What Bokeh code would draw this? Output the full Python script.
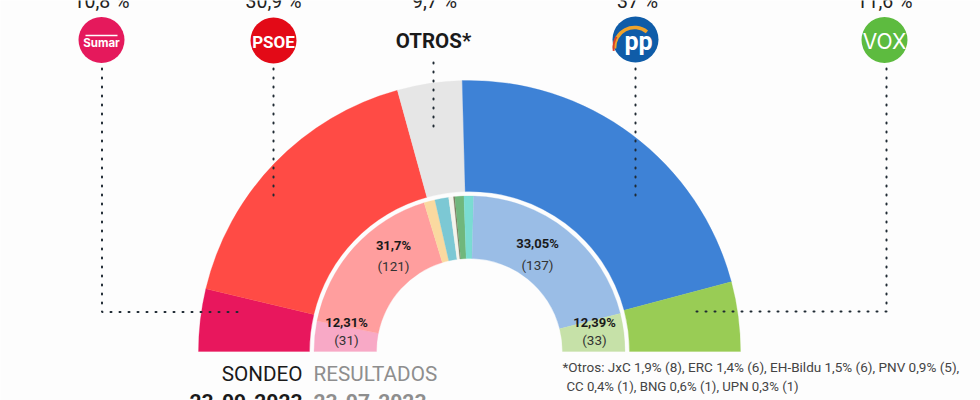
from math import pi
from bokeh.plotting import figure
from bokeh.models import ColumnDataSource
from bokeh.core.properties import value
from bokeh.embed import file_html
from bokeh.resources import INLINE

# seat-like weights (hemicycle of 350)
survey_names = ["Sumar", "PSOE", "Otros", "PP", "Vox"]
survey_pct_labels = ["10,8 %", "30,9 %", "9,7 %", "37 %", "11,6 %"]
survey_weights = [26, 119, 27, 149, 29]
survey_colors = ["#E8175D", "#FF4B45", "#E6E6E6", "#3E82D6", "#99CC55"]

result_names = ["Sumar", "PSOE", "CC", "ERC", "UPN", "BNG", "EH-Bildu", "PNV", "PP", "Vox"]
result_weights = [22, 120, 8, 10, 3.5, 1, 6.5, 7, 144.5, 27.5]
result_colors = ["#F8A9C6", "#FF9E9E", "#FAD9A0", "#7CC8D4", "#F4F4EC", "#7D7D63",
                 "#70B77C", "#7ADCD2", "#9ABDE6", "#C6E1A8"]

W, H = 980, 400
BG = "#FDFDFD"
TOTAL = 350
CX, CY = 469, H - 351


def Y(v):
    return H - v


def angles(weights):
    starts, ends, cum = [], [], 0
    for w in weights:
        ends.append(pi - cum / TOTAL * pi)
        cum += w
        starts.append(pi - cum / TOTAL * pi)
    return starts, ends


def label(x, y, t, size, color="#1a1a1a", font="Roboto", style="normal", align="center"):
    p.text([x], [Y(y)], text=[t], text_font=value(font), text_font_size=f"{size}px", text_font_style=style,
           text_align=align, text_baseline="middle", text_color=color)


p = figure(width=W, height=H, x_range=(0, W), y_range=(0, H), output_backend="svg",
           toolbar_location=None, min_border=0, outline_line_color=None,
           background_fill_color=BG, border_fill_color=BG, margin=(0, 0, 0, 0))
p.axis.visible = False
p.grid.visible = False

s, e = angles(survey_weights)
p.annular_wedge(x=CX, y=CY, inner_radius=160, outer_radius=271, source=ColumnDataSource(dict(
    start=s, end=e, color=survey_colors, name=survey_names)),
    start_angle="start", end_angle="end", fill_color="color", line_color="color", line_width=0.3)
s, e = angles(result_weights)
p.annular_wedge(x=CX, y=CY, inner_radius=93, outer_radius=155.5, source=ColumnDataSource(dict(
    start=s, end=e, color=result_colors, name=result_names)),
    start_angle="start", end_angle="end", fill_color="color", line_color="color", line_width=0.3)

# dotted connectors
DOT = dict(line_color="#1f2a33", line_width=2, line_dash="1 8", line_cap="round")
p.line([101.5, 101.5, 238], [Y(68), Y(311.5), Y(311.5)], **DOT)
p.line([273, 273], [Y(68), Y(200)], **DOT)
p.line([433, 433], [Y(62), Y(128)], **DOT)
p.line([635, 635], [Y(68), Y(200)], **DOT)
p.line([886, 886, 693], [Y(68), Y(311), Y(311)], **DOT)

# percentage labels at the very top
label_x = [101, 273, 434, 637, 884]
for x, t in zip(label_x, survey_pct_labels):
    label(x, 1, t, 19.5, color="#222222")

# party badges
p.circle([101], [Y(39.5)], radius=23, fill_color="#E5195C", line_color=None)
p.line([85, 117], [Y(35), Y(35)], line_color="white", line_width=1.4)
label(101, 42.5, "Sumar", 11.5, color="white", font="Inter", style="bold")
p.circle([273], [Y(40)], radius=23, fill_color="#E30A17", line_color=None)
label(273, 41, "PSOE", 17, color="white", style="bold")
p.circle([635], [Y(39)], radius=23, fill_color="#0F5CA8", line_color=None)
p.arc([634], [Y(47)], radius=[20], start_angle=0.9, end_angle=3.2, line_color="#F0A32A", line_width=3.5)
p.arc([634], [Y(47)], radius=[21], start_angle=2.6, end_angle=3.3, line_color="#D9402A", line_width=2)
label(638, 41, "pp", 25, color="white", style="bold")
p.circle([884], [Y(39.5)], radius=23, fill_color="#5DBB3F", line_color=None)
label(884, 41, "VOX", 21, color="white", font="Inter")

label(433, 40, "OTROS*", 20.5, style="bold")

# inner ring labels
ring_x = [393, 537, 346, 594]
ring_pct_y = [245, 243, 322, 322]
ring_seat_y = [265, 264, 339, 339]
ring_pct = ["31,7%", "33,05%", "12,31%", "12,39%"]
ring_seats = ["(121)", "(137)", "(31)", "(33)"]
for x, py, sy, a, b in zip(ring_x, ring_pct_y, ring_seat_y, ring_pct, ring_seats):
    label(x, py, a, 13, style="bold")
    label(x, sy, b, 13.5, color="#333333")

# headers under the chart
label(302, 373, "SONDEO", 20.7, align="right")
label(313, 373, "RESULTADOS", 20.7, color="#8e8e8e", align="left")
label(302, 401, "23-09-2023", 21, style="bold", align="right")
label(313, 401, "23-07-2023", 21, color="#8e8e8e", style="bold", align="left")

label(562, 366, "*Otros:  JxC 1,9% (8), ERC 1,4% (6), EH-Bildu 1,5% (6), PNV 0,9% (5),", 13.5,
      color="#444444", align="left")
label(566, 386, "CC 0,4% (1), BNG 0,6% (1), UPN 0,3% (1)", 13.2, color="#444444", align="left")

open("out.html", "w").write(file_html(p, INLINE))
